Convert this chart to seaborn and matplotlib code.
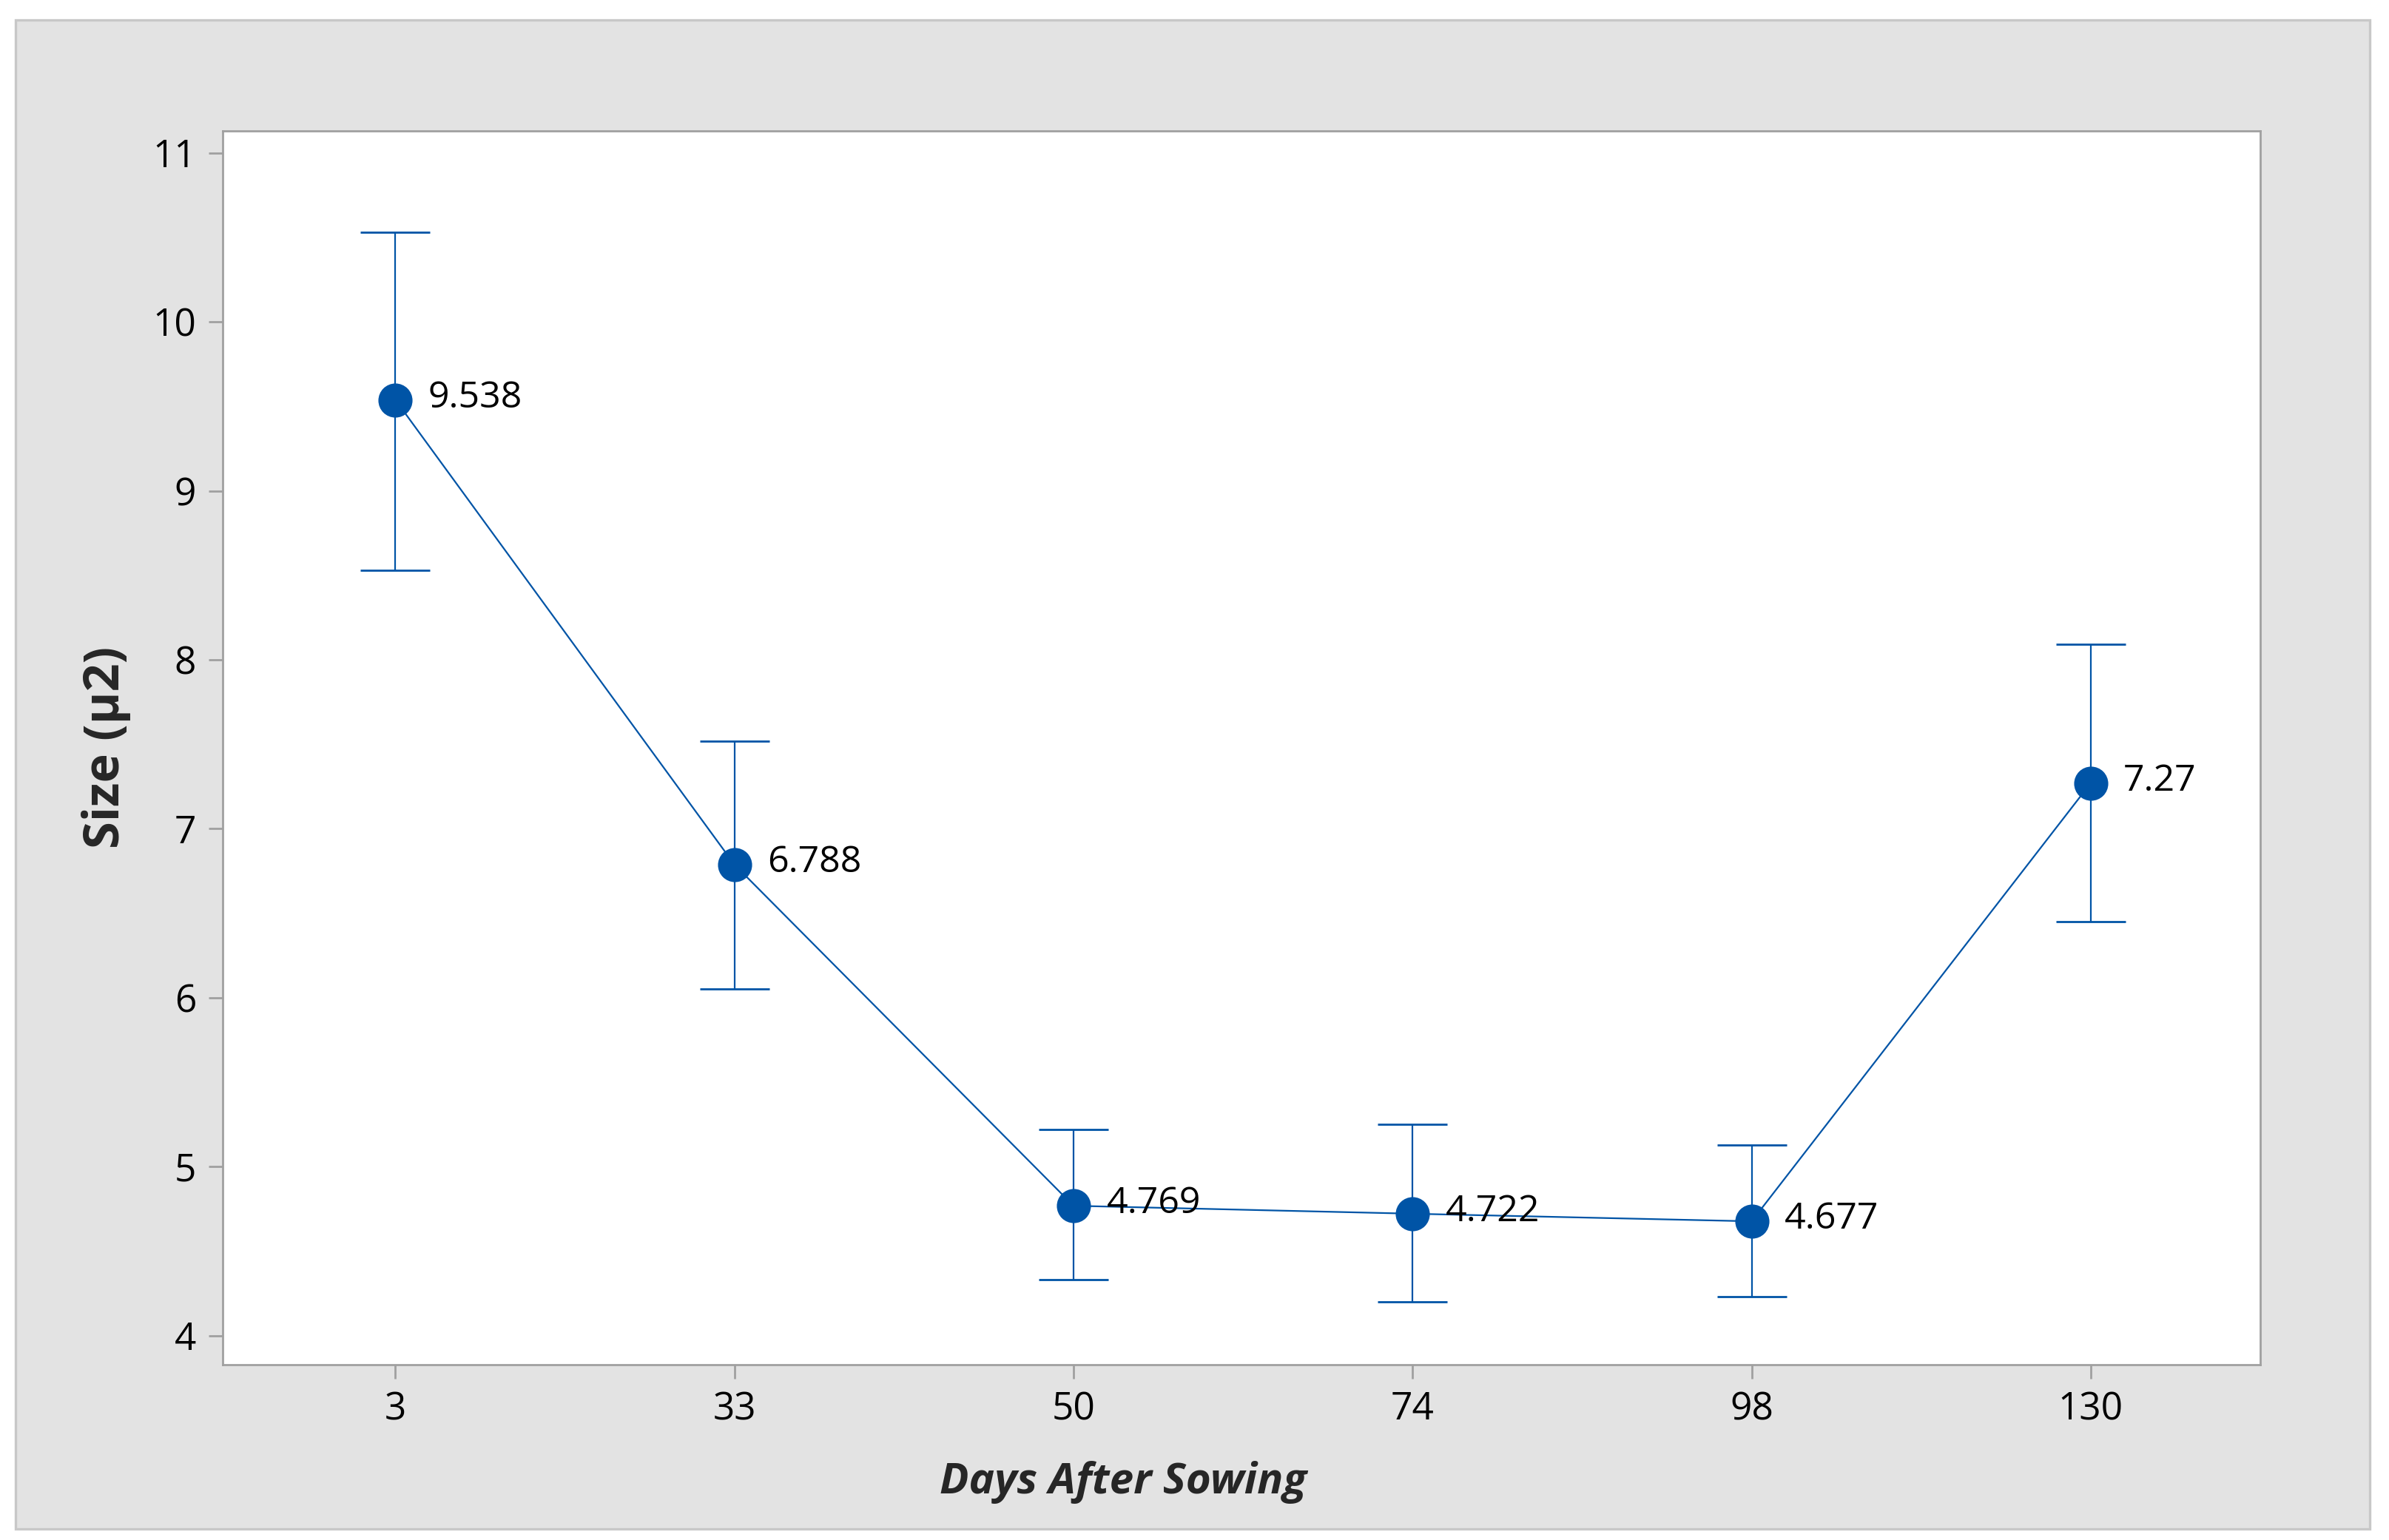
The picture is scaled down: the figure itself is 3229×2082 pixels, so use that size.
import numpy as np
import pandas as pd
import seaborn as sns
import matplotlib
matplotlib.use("Agg")
import matplotlib.pyplot as plt
from matplotlib.patches import Rectangle

# Data
days = ["3", "33", "50", "74", "98", "130"]
size_mean = [9.538, 6.788, 4.769, 4.722, 4.677, 7.27]
size_low = [8.53, 6.05, 4.33, 4.20, 4.23, 6.45]
size_high = [10.53, 7.52, 5.22, 5.25, 5.13, 8.09]

blue = "#0054A6"

sns.set_style("white")
plt.rcParams['font.family'] = ['Open Sans', 'DejaVu Sans']

df = pd.DataFrame({"Days": days, "Size": size_mean})

fig = plt.figure(figsize=(16.15, 10.41), dpi=200)
fig.patch.set_facecolor("white")
# grey panel behind the plot
fig.patches.append(Rectangle((0.0064, 0.007), 0.9853, 0.98, transform=fig.transFigure,
                             facecolor="#E3E3E3", edgecolor="#C8C8C8", linewidth=1.2, zorder=-1))
ax = fig.add_axes([0.0931, 0.114, 0.8527, 0.801])
ax.set_facecolor("white")

# error bars
mean = np.array(size_mean)
yerr = [mean - np.array(size_low), np.array(size_high) - mean]
ax.errorbar(x=np.arange(len(days)), y=mean, yerr=yerr, fmt="none", ecolor=blue,
            elinewidth=0.8, capsize=17, capthick=1.0, zorder=2)

# means connected by a line
sns.pointplot(data=df, x="Days", y="Size", order=days, errorbar=None, color=blue,
              markers="o", markersize=16, linewidth=0.8, ax=ax, zorder=3)

for i, v in enumerate(size_mean):
    ax.annotate(f"{v:g}", (i, v), xytext=(16, 1), textcoords="offset points",
                ha="left", va="center", fontsize=18, color="black")

ax.set_xlim(-0.51, 5.5)
ax.set_ylim(3.83, 11.13)
ax.set_yticks(range(4, 12))

for s in ax.spines.values():
    s.set_color("#A0A0A0")
    s.set_linewidth(1.0)
ax.tick_params(axis="both", which="major", direction="out", length=6.8, width=1.0,
               color="#A0A0A0", labelsize=18.5, labelcolor="black", pad=6,
               left=True, bottom=True)

ax.set_xlabel("Days After Sowing", fontsize=21, fontweight="bold", fontstyle="italic")
ax.set_ylabel("Size (µ2)", fontsize=24, fontweight="bold")
ax.xaxis.set_label_coords(0.442, -0.078)
ax.yaxis.set_label_coords(-0.045, 0.5)

fig.savefig("out.png", dpi=200, facecolor="white")
